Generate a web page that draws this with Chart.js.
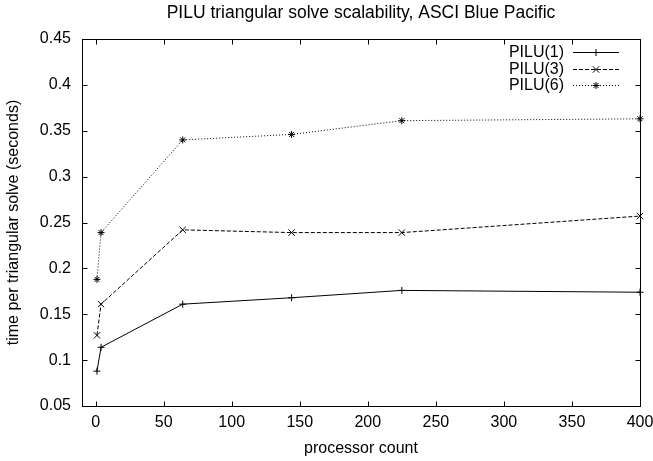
<!DOCTYPE html>
<html>
<head>
<meta charset="utf-8">
<script src="https://cdn.jsdelivr.net/npm/chart.js@4.4.1/dist/chart.umd.min.js"></script>
<style>
  html, body { margin: 0; padding: 0; background: #fff; }
</style>
</head>
<body>
<canvas id="scalingChart" width="653" height="461"></canvas>
<script>
const processors = [1, 4, 64, 144, 225, 400];
const pilu1 = [0.088, 0.114, 0.161, 0.168, 0.176, 0.174];
const pilu3 = [0.127, 0.161, 0.242, 0.239, 0.239, 0.257];
const pilu6 = [0.188, 0.239, 0.340, 0.346, 0.361, 0.363];
const xTicks = [0, 50, 100, 150, 200, 250, 300, 350, 400];
const yTicks = [0.05, 0.1, 0.15, 0.2, 0.25, 0.3, 0.35, 0.4, 0.45];
const chartTitle = "PILU triangular solve scalability, ASCI Blue Pacific";

Chart.defaults.font.family = '"Liberation Sans", Arial, Helvetica, sans-serif';
Chart.defaults.color = "#000";

function toPoints(values) {
  return processors.map((p, i) => ({ x: p, y: values[i] }));
}

// gnuplot style border with inward, mirrored ticks, title centred on the plot
const frameTicks = {
  id: "frameTicks",
  beforeDatasetsDraw(chart) {
    const { ctx, chartArea: a, scales } = chart;
    const left = Math.round(a.left) + 0.5;
    const right = Math.round(a.right) + 0.5;
    const top = Math.round(a.top) + 0.5;
    const bottom = Math.round(a.bottom) + 0.5;
    const len = 5;
    ctx.save();
    ctx.strokeStyle = "#000";
    ctx.lineWidth = 1;
    ctx.strokeRect(left, top, right - left, bottom - top);
    ctx.beginPath();
    xTicks.forEach((v) => {
      const px = Math.round(scales.x.getPixelForValue(v)) + 0.5;
      ctx.moveTo(px, bottom);
      ctx.lineTo(px, bottom - len);
      ctx.moveTo(px, top);
      ctx.lineTo(px, top + len);
    });
    yTicks.forEach((v) => {
      const py = Math.round(scales.y.getPixelForValue(v)) + 0.5;
      ctx.moveTo(left, py);
      ctx.lineTo(left + len, py);
      ctx.moveTo(right, py);
      ctx.lineTo(right - len, py);
    });
    ctx.stroke();

    ctx.font = '17.5px "Liberation Sans", Arial, sans-serif';
    ctx.fillStyle = "#000";
    ctx.textAlign = "center";
    ctx.textBaseline = "middle";
    ctx.fillText(chartTitle, (a.left + a.right) / 2, 13);
    ctx.restore();
  },
};

// key in the top right corner: label first, then sample line
const gnuplotKey = {
  id: "gnuplotKey",
  afterDraw(chart) {
    const { ctx, chartArea: a } = chart;
    const textRight = a.right - 76;
    const lineStart = a.right - 67;
    const lineEnd = a.right - 21;
    const firstRow = a.top + 13;
    const step = 16.5;
    chart.data.datasets.forEach((ds, i) => {
      const y = Math.round(firstRow + i * step) + 0.5;
      ctx.save();
      ctx.font = '16px "Liberation Sans", Arial, sans-serif';
      ctx.fillStyle = "#000";
      ctx.textAlign = "right";
      ctx.textBaseline = "middle";
      ctx.fillText(ds.label, textRight, y);
      ctx.strokeStyle = "#000";
      ctx.lineWidth = ds.borderWidth;
      ctx.setLineDash(ds.borderDash || []);
      ctx.beginPath();
      ctx.moveTo(lineStart, y);
      ctx.lineTo(lineEnd, y);
      ctx.stroke();
      ctx.setLineDash([]);
      Chart.helpers.drawPoint(
        ctx,
        { pointStyle: ds.pointStyle, radius: ds.pointRadius, borderWidth: 1, rotation: 0 },
        (lineStart + lineEnd) / 2,
        y
      );
      ctx.restore();
    });
  },
};

new Chart(document.getElementById("scalingChart"), {
  type: "line",
  data: {
    datasets: [
      {
        label: "PILU(1)",
        data: toPoints(pilu1),
        borderColor: "#000",
        borderWidth: 1,
        pointStyle: "cross",
        pointRadius: 3.5,
        pointBorderColor: "#000",
        pointBorderWidth: 1,
        clip: false,
      },
      {
        label: "PILU(3)",
        data: toPoints(pilu3),
        borderColor: "#000",
        borderWidth: 1,
        borderDash: [4, 2],
        pointStyle: "crossRot",
        pointRadius: 4.5,
        pointBorderColor: "#000",
        pointBorderWidth: 1,
        clip: false,
      },
      {
        label: "PILU(6)",
        data: toPoints(pilu6),
        borderColor: "#000",
        borderWidth: 1,
        borderDash: [1, 2],
        pointStyle: "star",
        pointRadius: 3.5,
        pointBorderColor: "#000",
        pointBorderWidth: 1,
        clip: false,
      },
    ],
  },
  options: {
    responsive: false,
    animation: false,
    devicePixelRatio: 1,
    layout: { padding: { top: 39, right: 13, bottom: 0, left: 0 } },
    elements: { line: { tension: 0, fill: false } },
    plugins: {
      legend: { display: false },
      tooltip: { enabled: false },
      title: { display: false },
    },
    scales: {
      x: {
        type: "linear",
        min: -10,
        max: 400,
        afterBuildTicks: (scale) => {
          scale.ticks = xTicks.map((v) => ({ value: v }));
        },
        afterFit: (scale) => {
          scale.height = 55;
          scale.paddingRight = 0;
        },
        grid: { display: false, drawTicks: false },
        border: { display: false },
        ticks: {
          color: "#000",
          font: { size: 16 },
          padding: 7,
          maxRotation: 0,
          autoSkip: false,
          callback: (v) => String(v),
        },
        title: {
          display: true,
          text: "processor count",
          color: "#000",
          font: { size: 16 },
          padding: { top: 0, bottom: 3 },
        },
      },
      y: {
        type: "linear",
        min: 0.05,
        max: 0.45,
        afterBuildTicks: (scale) => {
          scale.ticks = yTicks.map((v) => ({ value: v }));
        },
        afterFit: (scale) => {
          scale.width = 82;
        },
        grid: { display: false, drawTicks: false },
        border: { display: false },
        ticks: {
          color: "#000",
          font: { size: 16 },
          padding: 11,
          autoSkip: false,
          callback: (v) => String(v),
        },
        title: {
          display: true,
          text: "time per triangular solve (seconds)",
          color: "#000",
          font: { size: 16 },
          padding: { top: 4, bottom: 0 },
        },
      },
    },
  },
  plugins: [frameTicks, gnuplotKey],
});
</script>
</body>
</html>
